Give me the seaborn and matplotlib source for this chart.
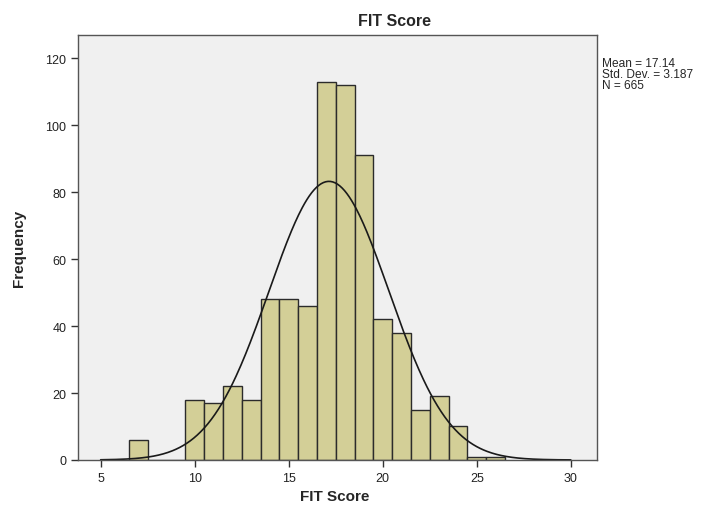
import numpy as np
import pandas as pd
import matplotlib
matplotlib.use("Agg")
import matplotlib.pyplot as plt
import seaborn as sns

# FIT score values (bin centres) and their frequencies
scores = [7, 10, 11, 12, 13, 14, 15, 16, 17, 18, 19, 20, 21, 22, 23, 24, 25, 26]
counts = [6, 18, 17, 22, 18, 48, 48, 46, 113, 112, 91, 42, 38, 15, 19, 10, 1, 1]

# summary stats printed beside the chart
mean_val = 17.14
std_val = 3.187
n_val = 665
stat_lines = [f"Mean = {mean_val}", f"Std. Dev. = {std_val}", f"N = {n_val}"]

x_ticks = [5, 10, 15, 20, 25, 30]
y_ticks = [0, 20, 40, 60, 80, 100, 120]

df = pd.DataFrame({"FIT Score": scores, "Frequency": counts})

sns.set_style("white")
plt.rcParams["font.family"] = ["Liberation Sans", "DejaVu Sans"]

fig = plt.figure(figsize=(7.1, 5.06), dpi=100)
ax = fig.add_axes([0.110, 0.089, 0.731, 0.840])
ax.set_facecolor("#f0f0f0")

sns.histplot(data=df, x="FIT Score", weights="Frequency", discrete=True,
             color="#d3cf97", edgecolor="#2b2b2b", linewidth=1.0, alpha=1.0, ax=ax)

# normal curve scaled to counts (bin width 1)
xs = np.linspace(5, 30, 400)
ys = n_val / (std_val * np.sqrt(2 * np.pi)) * np.exp(-0.5 * ((xs - mean_val) / std_val) ** 2)
ax.plot(xs, ys, color="#1a1a1a", linewidth=1.2)

ax.set_xlim(3.8, 31.4)
ax.set_ylim(0, 127)
ax.set_xticks(x_ticks)
ax.set_yticks(y_ticks)
ax.tick_params(axis="both", direction="out", length=5, width=1, color="#333333",
               labelsize=9, labelcolor="#222222", left=True, bottom=True)

for side in ["top", "right", "left", "bottom"]:
    ax.spines[side].set_visible(True)
    ax.spines[side].set_color("#555555")
    ax.spines[side].set_linewidth(1.0)

ax.set_xlabel("")
ax.set_ylabel("")
fig.text(335 / 710, 1 - 497 / 506, "FIT Score", ha="center", va="center",
         fontsize=11, fontweight="bold")
fig.text(19 / 710, 1 - 248 / 506, "Frequency", ha="center", va="center",
         rotation=90, fontsize=11, fontweight="bold")
fig.text(395 / 710, 1 - 22 / 506, "FIT Score", ha="center", va="center",
         fontsize=11.5, fontweight="bold")

fig.text(602 / 710, 1 - 58 / 506, "\n".join(stat_lines),
         ha="left", va="top", fontsize=8.6, linespacing=0.88)

fig.savefig("out.png", dpi=100, facecolor="white")
